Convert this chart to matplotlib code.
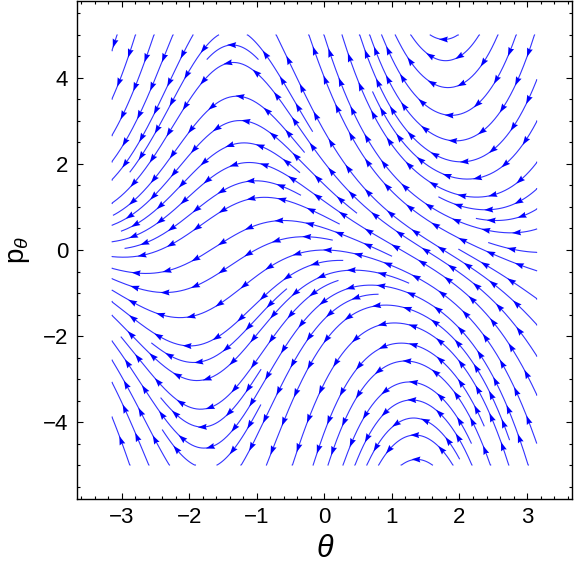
import numpy as np
import matplotlib
matplotlib.use("Agg")
import matplotlib.pyplot as plt
from matplotlib.patches import Polygon
from matplotlib.ticker import MultipleLocator
from collections import deque

# ---- data / field definition ----
theta_lim = [-np.pi, np.pi]      # streamline domain in theta
p_lim = [-5.0, 5.0]              # streamline domain in p_theta
theta_dot = -1.0                 # d(theta)/dt
k_sin = 1.0                      # d(p)/dt = p*cos(theta) + k_sin*sin(theta)
x_major = [-3, -2, -1, 0, 1, 2, 3]
y_major = [-4, -2, 0, 2, 4]
x_label = "θ"
y_label = r"$\mathrm{p}_{\mathit{\theta}}$"

plt.rcParams["font.family"] = ["Liberation Sans", "DejaVu Sans"]
plt.rcParams["mathtext.fontset"] = "custom"
plt.rcParams["mathtext.rm"] = "Liberation Sans"
plt.rcParams["mathtext.it"] = "Liberation Sans:italic"

fig = plt.figure(figsize=(5.76, 5.72), dpi=100)
ax = fig.add_axes([76.5 / 576, (572 - 499) / 572, (572.3 - 76.5) / 576, (499 - 1) / 572])
ax.set_xlim(-3.67, 3.67)
ax.set_ylim(-5.79, 5.79)
fig.canvas.draw()


def field(th, p):
    return theta_dot, p * np.cos(th) + k_sin * np.sin(th)


# ---- evenly spaced streamlines, computed in display (pixel) space ----
to_disp = ax.transData.transform
to_data = ax.transData.inverted().transform
x0, y0 = to_disp((theta_lim[0], p_lim[0]))
x1, y1 = to_disp((theta_lim[1], p_lim[1]))
sx = (x1 - x0) / (theta_lim[1] - theta_lim[0])
sy = (y1 - y0) / (p_lim[1] - p_lim[0])

dsep = 17.5
dtest = 0.5 * dsep
h = 1.0
cell = dsep
grid = {}


def key(pt):
    return (int((pt[0] - x0) // cell), int((pt[1] - y0) // cell))


def near(pt, d):
    kx, ky = key(pt)
    r = int(np.ceil(d / cell))
    d2 = d * d
    for i in range(kx - r, kx + r + 1):
        for j in range(ky - r, ky + r + 1):
            for q in grid.get((i, j), ()):
                if (q[0] - pt[0]) ** 2 + (q[1] - pt[1]) ** 2 < d2:
                    return True
    return False


def direction(pt, sgn):
    th = theta_lim[0] + (pt[0] - x0) / sx
    p = p_lim[0] + (pt[1] - y0) / sy
    u, v = field(th, p)
    dx, dy = u * sx, v * sy
    n = np.hypot(dx, dy)
    return sgn * dx / n, sgn * dy / n


def inside(pt):
    return x0 <= pt[0] <= x1 and y0 <= pt[1] <= y1


def trace(seed, sgn):
    pts = []
    cur = seed
    for _ in range(3000):
        dx, dy = direction(cur, sgn)
        mid = (cur[0] + 0.5 * h * dx, cur[1] + 0.5 * h * dy)
        dx, dy = direction(mid, sgn)
        nxt = (cur[0] + h * dx, cur[1] + h * dy)
        if not inside(nxt):
            pts.append((min(max(nxt[0], x0), x1), min(max(nxt[1], y0), y1)))
            break
        if near(nxt, dtest):
            break
        pts.append(nxt)
        cur = nxt
    return pts


lines = []
queue = deque([to_disp((0.0, 0.0))])
queue.extend(to_disp([(-2.5, 4.0), (2.5, -4.0), (2.0, 4.5), (-2.0, -4.5)]))
while queue:
    s = tuple(queue.popleft())
    if not inside(s) or near(s, dsep * 0.95):
        continue
    back = trace(s, -1.0)
    fwd = trace(s, 1.0)
    pts = back[::-1] + [s] + fwd
    arr = np.array(pts)
    length = np.sum(np.hypot(*np.diff(arr, axis=0).T)) if len(arr) > 1 else 0
    if length < 16:
        continue
    for q in pts:
        grid.setdefault(key(q), []).append(q)
    lines.append(arr)
    for i in range(0, len(arr) - 1, 3):
        t = arr[min(i + 1, len(arr) - 1)] - arr[max(i - 1, 0)]
        t = t / (np.hypot(*t) + 1e-12)
        nrm = np.array([-t[1], t[0]])
        queue.append(tuple(arr[i] + nrm * dsep))
        queue.append(tuple(arr[i] - nrm * dsep))

line_color = (0.2, 0.2, 1.0)
spacing = 31.0
L, W = 9.0, 6.0
for d in lines:
    data = to_data(d)
    ax.plot(data[:, 0], data[:, 1], color=line_color, lw=0.8, zorder=2)
    ds = np.hypot(np.diff(d[:, 0]), np.diff(d[:, 1]))
    s = np.concatenate([[0], np.cumsum(ds)])
    total = s[-1]
    n = max(1, int(total // spacing))
    start = (total - (n - 1) * spacing) / 2 if n > 1 else total / 2
    for i in range(n):
        si = start + i * spacing
        j = int(np.searchsorted(s, si))
        j = min(max(j, 1), len(s) - 1)
        t = (si - s[j - 1]) / max(ds[j - 1], 1e-9)
        pos = d[j - 1] + t * (d[j] - d[j - 1])
        a = max(j - 3, 0)
        b = min(j + 2, len(d) - 1)
        v = d[b] - d[a]
        v = v / (np.hypot(*v) + 1e-12)
        nrm = np.array([-v[1], v[0]])
        tip = pos + v * L * 0.6
        base = pos - v * L * 0.4
        tri = np.array([tip, base + nrm * W / 2, base + v * L * 0.12, base - nrm * W / 2])
        ax.add_patch(Polygon(tri, closed=True, transform=None,
                             facecolor=(0, 0, 1), edgecolor="none", zorder=3))

ax.set_xticks(x_major)
ax.set_yticks(y_major)
ax.xaxis.set_minor_locator(MultipleLocator(0.2))
ax.yaxis.set_minor_locator(MultipleLocator(0.5))
ax.set_xticklabels([f"{v}".replace("-", "\u2212") for v in x_major])
ax.set_yticklabels([f"{v}".replace("-", "\u2212") for v in y_major])
ax.tick_params(which="both", direction="in", top=True, right=True, width=0.8)
ax.tick_params(which="major", length=4.5, labelsize=16, pad=6)
ax.tick_params(which="minor", length=2.5)
for s_ in ax.spines.values():
    s_.set_linewidth(1.0)

ax.set_xlabel(x_label, fontsize=22, fontstyle="italic", labelpad=4)
ax.set_ylabel(y_label, fontsize=20, labelpad=8)

fig.savefig("out.png", dpi=100)
